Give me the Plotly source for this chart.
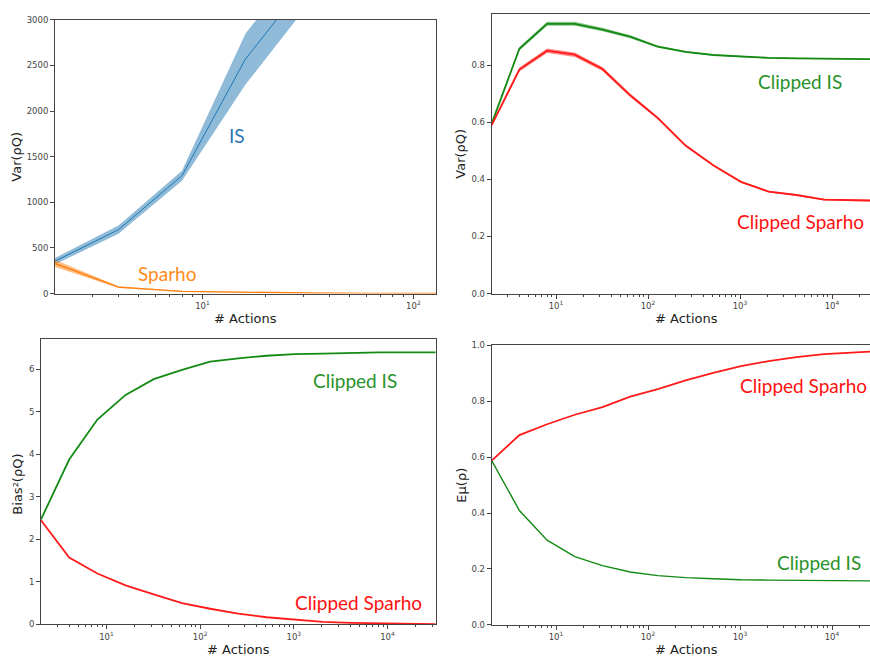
import math
import plotly.graph_objects as go

# ---------------- data ----------------
# top-left panel: variance of IS vs Sparho (few actions)
n_small = [2, 4, 8, 16, 32, 64, 128]
is_var = [355, 700, 1292, 2570, 3450]
is_sd = [35, 45, 55, 280, 270]
sparho_var = [330, 70, 25, 12, 6, 3, 1.5]
sparho_sd = [40, 10, 4, 2, 1, 0.5, 0.3]

# other panels: up to 2^15 actions
n_actions = [2, 4, 8, 16, 32, 64, 128, 256, 512, 1024, 2048, 4096, 8192, 16384, 32768]
cis_var = [0.595, 0.857, 0.944, 0.944, 0.924, 0.899, 0.864, 0.846, 0.835, 0.829, 0.825, 0.823, 0.822, 0.821, 0.820]
cis_var_sd = [0.004, 0.006, 0.007, 0.007, 0.006, 0.005, 0.004, 0.003, 0.002, 0.002, 0.002, 0.002, 0.002, 0.002, 0.002]
csp_var = [0.590, 0.784, 0.850, 0.836, 0.786, 0.694, 0.614, 0.518, 0.449, 0.391, 0.357, 0.345, 0.329, 0.326, 0.325]
csp_var_sd = [0.004, 0.007, 0.008, 0.008, 0.007, 0.006, 0.005, 0.004, 0.003, 0.003, 0.003, 0.003, 0.003, 0.003, 0.003]

cis_bias = [2.47, 3.88, 4.82, 5.40, 5.77, 5.99, 6.18, 6.26, 6.32, 6.36, 6.37, 6.39, 6.40, 6.40, 6.40]
csp_bias = [2.45, 1.575, 1.20, 0.92, 0.71, 0.50, 0.37, 0.255, 0.17, 0.108, 0.062, 0.04, 0.025, 0.015, 0.01]

csp_rho = [0.588, 0.679, 0.718, 0.752, 0.779, 0.817, 0.844, 0.875, 0.902, 0.926, 0.944, 0.958, 0.969, 0.976, 0.980]
cis_rho = [0.588, 0.409, 0.303, 0.244, 0.212, 0.189, 0.176, 0.169, 0.165, 0.161, 0.160, 0.159, 0.158, 0.157, 0.157]

major_small = [10, 100]
major_large = [10, 100, 1000, 10000]
major_text_small = ["10<sup>1</sup>", "10<sup>2</sup>"]
major_text_large = ["10<sup>1</sup>", "10<sup>2</sup>", "10<sup>3</sup>", "10<sup>4</sup>"]
minor_small = [3, 4, 5, 6, 7, 8, 9, 20, 30, 40, 50, 60, 70, 80, 90]
minor_large = minor_small + [200, 300, 400, 500, 600, 700, 800, 900,
                             2000, 3000, 4000, 5000, 6000, 7000, 8000, 9000, 20000, 30000]

# ---------------- styling ----------------
W, H = 870, 661
BLUE = "#1f77b4"
ORANGE = "#ff7f0e"
GREEN = "#138a13"
RED = "#ff1a1a"
SPINE = "#444444"
TICKFONT = dict(family="DejaVu Sans", size=8.5, color="#444444")
TITLEFONT = dict(family="DejaVu Sans", size=13, color="#222222")
LABELFONT = "Lato"


def fx(px):
    return px / W


def fy(py):
    return 1 - py / H


def band(x, y, sd, fillcolor, xa, ya):
    lo = [v - s for v, s in zip(y, sd)]
    hi = [v + s for v, s in zip(y, sd)]
    return go.Scatter(x=list(x) + list(x)[::-1], y=hi + lo[::-1], fill="toself",
                      fillcolor=fillcolor, line=dict(width=0), mode="lines",
                      hoverinfo="skip", showlegend=False, xaxis=xa, yaxis=ya)


def line(x, y, color, width, xa, ya):
    return go.Scatter(x=x, y=y, mode="lines", line=dict(color=color, width=width),
                      showlegend=False, xaxis=xa, yaxis=ya)


fig = go.Figure()

# panel 1 (top-left)
fig.add_trace(band(n_small[:len(is_var)], is_var, is_sd, "rgba(31,119,180,0.5)", "x", "y"))
fig.add_trace(line(n_small[:len(is_var)], is_var, BLUE, 1, "x", "y"))
fig.add_trace(band(n_small, sparho_var, sparho_sd, "rgba(255,127,14,0.5)", "x", "y"))
fig.add_trace(line(n_small, sparho_var, ORANGE, 1.3, "x", "y"))

# panel 2 (top-right)
fig.add_trace(band(n_actions, cis_var, cis_var_sd, "rgba(0,128,0,0.45)", "x2", "y2"))
fig.add_trace(line(n_actions, cis_var, GREEN, 1.8, "x2", "y2"))
fig.add_trace(band(n_actions, csp_var, csp_var_sd, "rgba(255,0,0,0.45)", "x2", "y2"))
fig.add_trace(line(n_actions, csp_var, RED, 1.8, "x2", "y2"))

# panel 3 (bottom-left)
fig.add_trace(line(n_actions, cis_bias, GREEN, 1.8, "x3", "y3"))
fig.add_trace(line(n_actions, csp_bias, RED, 1.8, "x3", "y3"))

# panel 4 (bottom-right)
fig.add_trace(line(n_actions, csp_rho, RED, 1.8, "x4", "y4"))
fig.add_trace(line(n_actions, cis_rho, GREEN, 1.4, "x4", "y4"))


def xaxis(dom, rng, anchor, major, major_text, minor, mirror):
    return dict(type="log", domain=dom, range=rng, anchor=anchor,
                showline=True, linecolor=SPINE, linewidth=1, mirror=mirror,
                ticks="outside", ticklen=4, tickwidth=1, tickcolor=SPINE,
                tickmode="array", tickvals=major, ticktext=major_text,
                tickfont=TICKFONT, showgrid=False, zeroline=False,
                minor=dict(tickmode="array", tickvals=minor, ticks="outside",
                           ticklen=2, tickwidth=1, tickcolor=SPINE, showgrid=False))


def yaxis(dom, rng, anchor, vals, text, mirror):
    return dict(domain=dom, range=rng, anchor=anchor,
                showline=True, linecolor=SPINE, linewidth=1, mirror=mirror,
                ticks="outside", ticklen=4, tickwidth=1, tickcolor=SPINE,
                tickmode="array", tickvals=vals, ticktext=text,
                tickfont=TICKFONT, showgrid=False, zeroline=False)


lx0 = math.log10(2)

fig.update_layout(
    width=W, height=H, margin=dict(l=0, r=0, t=0, b=0),
    paper_bgcolor="white", plot_bgcolor="white",
    xaxis=xaxis([fx(55), fx(436)], [lx0, math.log10(128)], "y",
                major_small, major_text_small, minor_small, True),
    yaxis=yaxis([fy(293), fy(15)], [0, 3000], "x",
                [0, 500, 1000, 1500, 2000, 2500, 3000],
                ["0", "500", "1000", "1500", "2000", "2500", "3000"], True),
    xaxis2=xaxis([fx(491.7), 1.0], [lx0, 4.413], "y2",
                 major_large, major_text_large, minor_large, True),
    yaxis2=yaxis([fy(293), fy(9)], [0, 0.979], "x2",
                 [0, 0.2, 0.4, 0.6, 0.8], ["0.0", "0.2", "0.4", "0.6", "0.8"], False),
    xaxis3=xaxis([fx(41), fx(435.7)], [lx0, math.log10(32768)], "y3",
                 major_large, major_text_large, minor_large, True),
    yaxis3=yaxis([fy(629), fy(339.3)], [0, 6.71], "x3",
                 [0, 1, 2, 3, 4, 5, 6], ["0", "1", "2", "3", "4", "5", "6"], True),
    xaxis4=xaxis([fx(491.7), 1.0], [lx0, 4.413], "y4",
                 major_large, major_text_large, minor_large, True),
    yaxis4=yaxis([fy(629.3), fy(345.7)], [0, 1.0], "x4",
                 [0, 0.2, 0.4, 0.6, 0.8, 1.0], ["0.0", "0.2", "0.4", "0.6", "0.8", "1.0"], False),
)

annotations = []


def ann(text, x, y, font, angle=0):
    annotations.append(dict(text=text, x=fx(x), y=fy(y), xref="paper", yref="paper",
                            showarrow=False, font=font, textangle=angle,
                            xanchor="center", yanchor="middle"))


# axis titles
ann("# Actions", 245.5, 318, TITLEFONT)
ann("# Actions", 686, 318, TITLEFONT)
ann("# Actions", 238, 654, TITLEFONT)
ann("# Actions", 686, 654, TITLEFONT)
ann("Var(ρQ)", 17, 154, TITLEFONT, -90)
ann("Var(ρQ)", 461, 151, TITLEFONT, -90)
ann("Bias²(ρQ)", 18, 487, TITLEFONT, -90)
ann("Eμ(ρ)", 462, 487, TITLEFONT, -90)

# series labels
ann("IS", 237, 132, dict(family=LABELFONT, size=19, color="#2e75b6"))
ann("Sparho", 167, 273, dict(family=LABELFONT, size=19, color="#ff8c1a"))
ann("Clipped IS", 800, 78, dict(family=LABELFONT, size=19, color="#2a922a"))
ann("Clipped Sparho", 800, 220, dict(family=LABELFONT, size=19, color="#ff1010"))
ann("Clipped IS", 355, 381, dict(family=LABELFONT, size=19, color="#2a922a"))
ann("Clipped Sparho", 358, 607, dict(family=LABELFONT, size=19, color="#ff1010"))
ann("Clipped Sparho", 803, 386, dict(family=LABELFONT, size=19, color="#ff1010"))
ann("Clipped IS", 819, 566, dict(family=LABELFONT, size=19, color="#2a922a"))

fig.update_layout(annotations=annotations)

fig.write_html("out.html", post_script="document.body.style.margin='0';",
               config={"displayModeBar": False})
